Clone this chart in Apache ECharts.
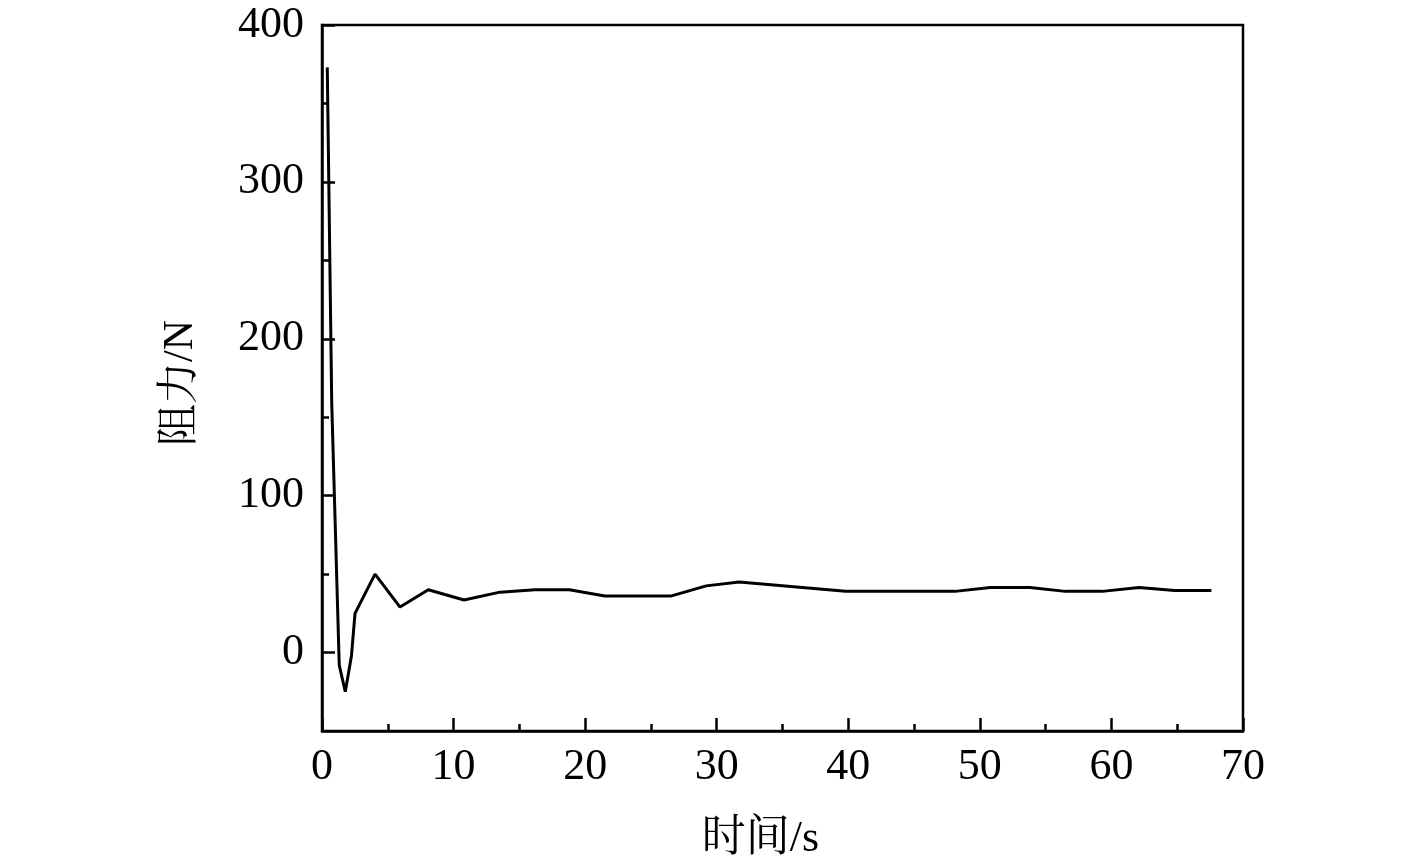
<!DOCTYPE html>
<html>
<head>
<meta charset="utf-8">
<script src="https://cdn.jsdelivr.net/npm/echarts@6/dist/echarts.min.js"></script>
<style>html,body{margin:0;padding:0;background:#fff;}#c{width:1417px;height:866px;}</style>
</head>
<body>
<div id="c"></div>
<script>
var timeS = [0.40, 0.74, 1.31, 1.77, 2.24, 2.51, 4.03, 5.93, 8.08, 10.79, 13.53, 16.19, 18.8, 21.5, 26.5, 29.2, 31.7, 39.8, 48.1, 50.8, 53.8, 56.5, 59.3, 62.1, 64.8, 67.6];
var resistanceN = [373, 159, -8, -25, -2, 25, 50, 29, 40, 33.5, 38.5, 40, 40, 36, 36, 42.5, 45, 39, 39, 41.5, 41.5, 39, 39, 41.5, 39.5, 39.5];
var yMajorTicks = [0, 100, 200, 300, 400];
var yMinorTicks = [50, 150, 250, 350];
var xName = '时间/s';
var yName = '阻力/N';

var fontFam = '"Liberation Serif","Noto Serif CJK SC","Noto Sans CJK SC",serif';
var chart = echarts.init(document.getElementById('c'));
var pts = timeS.map(function(t, i){ return [t, resistanceN[i]]; });
chart.setOption({
  animation: false,
  backgroundColor: '#fff',
  grid: {left: 322, right: 174, top: 25, bottom: 133, show: true, borderColor: '#000', borderWidth: 2.5, containLabel: false},
  xAxis: {
    type: 'value', min: 0, max: 70, interval: 10,
    name: xName, nameLocation: 'middle', nameGap: 86,
    nameTextStyle: {fontFamily: fontFam, fontSize: 44, color: '#000', padding: [0, 44, 0, 0]},
    axisLine: {show: true, onZero: false, lineStyle: {color: '#000', width: 2.5}},
    axisTick: {show: true, inside: true, length: 13, lineStyle: {color: '#000', width: 2.5}},
    minorTick: {show: true, splitNumber: 2, length: 7, lineStyle: {color: '#000', width: 2.5}},
    axisLabel: {fontFamily: fontFam, fontSize: 44, color: '#000', margin: 14},
    splitLine: {show: false}
  },
  yAxis: [{
    type: 'value', min: -50, max: 400, interval: 50,
    name: yName, nameLocation: 'middle', nameGap: 120, nameRotate: 90,
    nameTextStyle: {fontFamily: fontFam, fontSize: 42, color: '#000', padding: [0, 10, 0, 0]},
    axisLine: {show: true, onZero: false, lineStyle: {color: '#000', width: 2.5}},
    axisTick: {show: true, inside: true, length: 13, customValues: yMajorTicks, lineStyle: {color: '#000', width: 2.5}},
    axisLabel: {fontFamily: fontFam, fontSize: 44, color: '#000', margin: 18, customValues: yMajorTicks},
    splitLine: {show: false}
  }, {
    type: 'value', min: -50, max: 400, interval: 50, position: 'left',
    axisLine: {show: false, onZero: false},
    axisTick: {show: true, inside: true, length: 7, customValues: yMinorTicks, lineStyle: {color: '#000', width: 2.5}},
    axisLabel: {show: false},
    splitLine: {show: false}
  }],
  series: [{
    type: 'line', data: pts, showSymbol: false, symbol: 'none', yAxisIndex: 0,
    lineStyle: {color: '#000', width: 3}
  }]
});
</script>
</body>
</html>
